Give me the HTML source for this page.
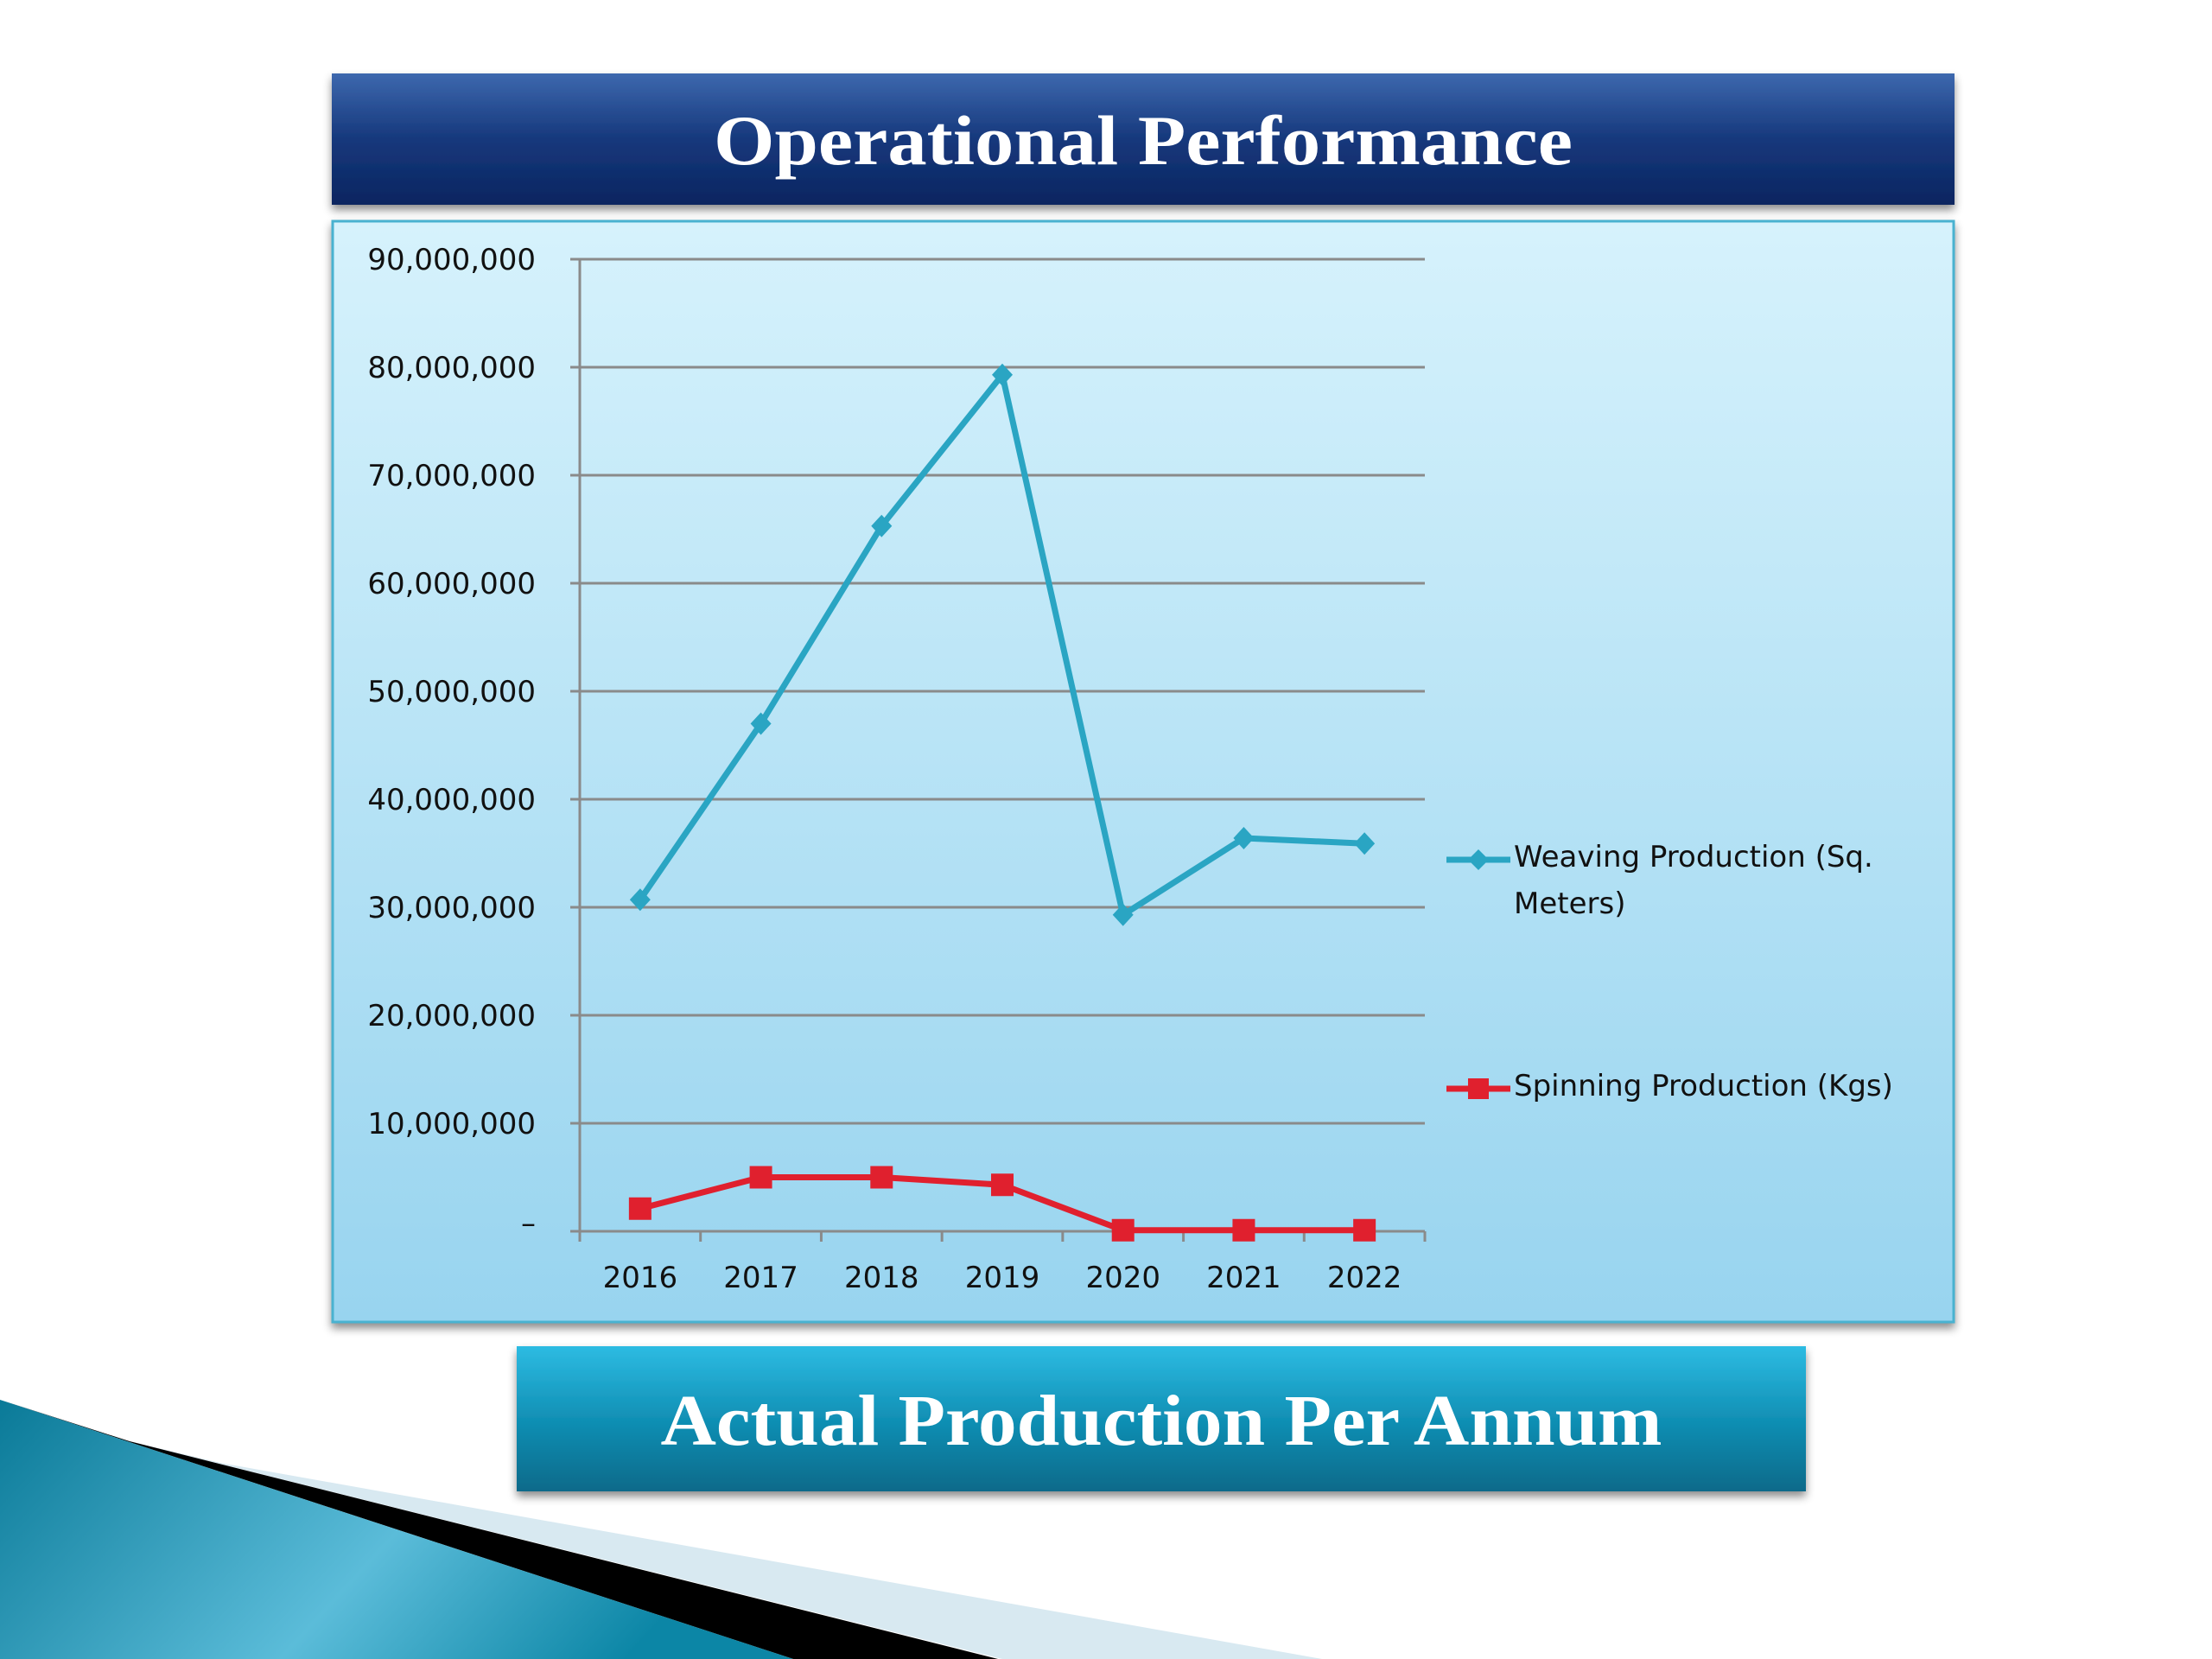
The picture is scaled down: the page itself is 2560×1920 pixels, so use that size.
<!DOCTYPE html>
<html><head><meta charset="utf-8"><style>
html,body{margin:0;padding:0;background:#fff;}
svg{display:block;}
</style></head><body>
<svg width="2560" height="1920" viewBox="0 0 2560 1920" xmlns="http://www.w3.org/2000/svg">
<defs>
<linearGradient id="gTitle" x1="0" y1="0" x2="0" y2="1"><stop offset="0" stop-color="#3d68ae"/><stop offset="0.5" stop-color="#16387c"/><stop offset="1" stop-color="#0a2560"/></linearGradient>
<linearGradient id="gPanel" x1="0" y1="0" x2="0" y2="1"><stop offset="0" stop-color="#d6f2fc"/><stop offset="1" stop-color="#98d4ef"/></linearGradient>
<linearGradient id="gSub" x1="0" y1="0" x2="0" y2="1"><stop offset="0" stop-color="#2dbbe2"/><stop offset="0.5" stop-color="#1190b5"/><stop offset="1" stop-color="#0a6a8a"/></linearGradient>
<linearGradient id="gTeal" x1="0" y1="0" x2="1" y2="0.3"><stop offset="0" stop-color="#0a7a98"/><stop offset="0.6" stop-color="#5bbcd9"/><stop offset="1" stop-color="#0c86a6"/></linearGradient>
<filter id="sh" x="-5%" y="-20%" width="110%" height="150%"><feDropShadow dx="0" dy="6" stdDeviation="5" flood-color="#000" flood-opacity="0.45"/></filter>
</defs>

<g>
<polygon points="255,1693 1530,1920 1160,1920 150,1668" fill="#d8e9f1"/>
<polygon points="0,1620 150,1668 1155,1920 918,1920" fill="#000"/>
<polygon points="0,1620 918,1920 0,1920" fill="url(#gTeal)"/>
</g>

<g>
<rect x="384" y="85" width="1878" height="152" fill="url(#gTitle)" filter="url(#sh)"/>
<text x="1323" y="190" text-anchor="middle" font-family="Liberation Serif, serif" font-weight="bold" font-size="82" fill="#fff" textLength="994" lengthAdjust="spacingAndGlyphs">Operational Performance</text>
</g>

<rect x="385" y="256" width="1876" height="1274" fill="url(#gPanel)" stroke="#4ab2d0" stroke-width="3" filter="url(#sh)"/>

<g id="chart"></g>

<g>
<rect x="598" y="1558" width="1492" height="168" fill="url(#gSub)" filter="url(#sh)"/>
<text x="1344" y="1672" text-anchor="middle" font-family="Liberation Serif, serif" font-weight="bold" font-size="84" fill="#fff" textLength="1159" lengthAdjust="spacingAndGlyphs">Actual Production Per Annum</text>
</g>
</svg>
<script>
const categories = ["2016","2017","2018","2019","2020","2021","2022"];
const weaving = [30700000, 47000000, 65300000, 79300000, 29300000, 36400000, 35900000];
const spinning = [2100000, 5000000, 5000000, 4300000, 100000, 100000, 100000];
const yTicks = [0,10000000,20000000,30000000,40000000,50000000,60000000,70000000,80000000,90000000];
const yTickLabels = ["–","10,000,000","20,000,000","30,000,000","40,000,000","50,000,000","60,000,000","70,000,000","80,000,000","90,000,000"];

const NS="http://www.w3.org/2000/svg";
const g=document.getElementById('chart');
const L=671,R=1649,T=300,B=1425,yMax=90000000;
const y=v=>B-(v/yMax)*(B-T);
const bw=(R-L)/categories.length;
const x=i=>L+bw*(i+0.5);
function mk(tag,attrs){const e=document.createElementNS(NS,tag);for(const k in attrs)e.setAttribute(k,attrs[k]);g.appendChild(e);return e;}

yTicks.forEach((v,i)=>{
  const ln=mk('line',{x1:660,x2:R,y1:y(v),y2:y(v),stroke:'#8a8a8a','stroke-width':3});
  
  
  const t=mk('text',{x:620,y:y(v)+(i===0?2:12),'text-anchor':'end','font-family':'DejaVu Sans, sans-serif','font-size':34,fill:'#111'});
  t.textContent=yTickLabels[i];
  
  
});
const ax=mk('line',{x1:L,x2:L,y1:T,y2:B,stroke:'#8a8a8a','stroke-width':3});


for(let i=0;i<=categories.length;i++){
  const tk=mk('line',{x1:L+bw*i,x2:L+bw*i,y1:B,y2:B+12,stroke:'#8a8a8a','stroke-width':3});
  
  
}
categories.forEach((c,i)=>{
  const t=mk('text',{x:x(i),y:1490,'text-anchor':'middle','font-family':'DejaVu Sans, sans-serif','font-size':34,fill:'#111'});
  t.textContent=c;
  
  
});

const wl=mk('polyline',{points:weaving.map((v,i)=>x(i)+','+y(v)).join(' '),fill:'none',stroke:'#2aa5c3','stroke-width':7,'stroke-linejoin':'round'});


weaving.forEach((v,i)=>{
  const cx=x(i),cy=y(v);
  const p=mk('polygon',{points:`${cx},${cy-13} ${cx+12},${cy} ${cx},${cy+13} ${cx-12},${cy}`,fill:'#2aa5c3'});
  
  
});
const sl=mk('polyline',{points:spinning.map((v,i)=>x(i)+','+y(v)).join(' '),fill:'none',stroke:'#e0202e','stroke-width':7,'stroke-linejoin':'round'});


spinning.forEach((v,i)=>{
  const r=mk('rect',{x:x(i)-13,y:y(v)-13,width:26,height:26,fill:'#e0202e'});
  
  
});

// legend
const l1=mk('line',{x1:1674,x2:1748,y1:995,y2:995,stroke:'#2aa5c3','stroke-width':7});


const d1=mk('polygon',{points:'1711,983 1723,995 1711,1007 1699,995',fill:'#2aa5c3'});


const t1=mk('text',{x:1752,y:1003,'font-family':'DejaVu Sans, sans-serif','font-size':34,fill:'#111'});
t1.textContent='Weaving Production (Sq.';


const t1b=mk('text',{x:1752,y:1057,'font-family':'DejaVu Sans, sans-serif','font-size':34,fill:'#111'});
t1b.textContent='Meters)';


const l2=mk('line',{x1:1674,x2:1748,y1:1260,y2:1260,stroke:'#e0202e','stroke-width':7});


const r2=mk('rect',{x:1699,y:1248,width:24,height:24,fill:'#e0202e'});


const t2=mk('text',{x:1752,y:1268,'font-family':'DejaVu Sans, sans-serif','font-size':34,fill:'#111'});
t2.textContent='Spinning Production (Kgs)';


</script>
</body></html>
